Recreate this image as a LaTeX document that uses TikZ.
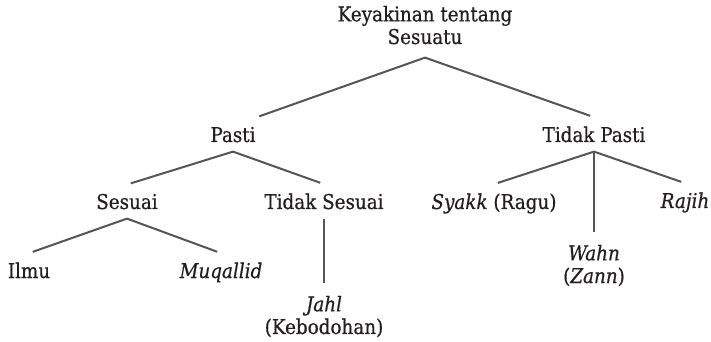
\documentclass[tikz,border=0pt]{standalone}
\usepackage{fontspec}
\setmainfont{DejaVu Serif Condensed}[FakeBold=0.6]
\definecolor{ink}{HTML}{231F20}
\definecolor{twig}{HTML}{555555}
\tikzset{
  term/.style={font=\fontsize{15.3}{17}\selectfont, text=ink, inner sep=0pt,
    outer xsep=0pt, outer ysep=7pt, align=center, anchor=base},
  branch/.style={draw=twig, line width=1.5pt, shorten >=3pt},
}
\begin{document}
\begin{tikzpicture}[x=0.75pt, y=-0.75pt]
  \useasboundingbox (0,0) rectangle (711,342);

  \node[term, outer ysep=10pt] (root) at (425,44) {Keyakinan tentang\\Sesuatu};
  \node[term] (pasti) at (233,142) {Pasti};
  \node[term] (tpasti) at (594,142) {Tidak Pasti};
  \node[term] (sesuai) at (127,209) {Sesuai};
  \node[term] (tsesuai) at (324,209) {Tidak Sesuai};
  \node[term] (syakk) at (494,209) {\textit{Syakk} (Ragu)};
  \node[term] (rajih) at (685,208) {\textit{Rajih}};
  \node[term] (ilmu) at (29,278) {Ilmu};
  \node[term] (muqallid) at (221,278) {\textit{Muqallid}};
  \node[term] (wahn) at (594,283) {\textit{Wahn}\\(\textit{Zann})};
  \node[term] (jahl) at (324,334) {\textit{Jahl}\\(Kebodohan)};

  \draw[branch] (root.south) -- (pasti.north east);
  \draw[branch] (root.south) -- (tpasti.north);
  \draw[branch] (pasti.south) -- (sesuai.north);
  \draw[branch] (pasti.south) -- (tsesuai.north);
  \draw[branch] (tpasti.south) -- (syakk.north);
  \draw[branch] (tpasti.south) -- (wahn.north);
  \draw[branch] (tpasti.south) -- (rajih.north);
  \draw[branch] (sesuai.south) -- (ilmu.north);
  \draw[branch] (sesuai.south) -- (muqallid.north);
  \draw[branch] (tsesuai.south) -- (jahl.north);
\end{tikzpicture}
\end{document}
